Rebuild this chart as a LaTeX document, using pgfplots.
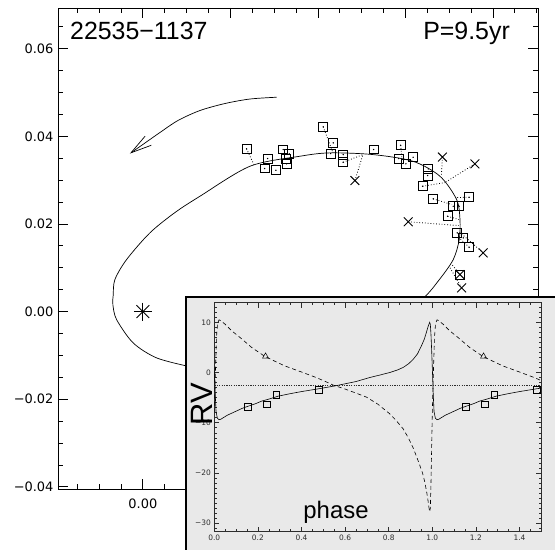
\documentclass[border=0pt]{standalone}
\usepackage{pgfplots}
\pgfplotsset{compat=1.18}
\usetikzlibrary{arrows.meta}
\usepackage{fontspec}
\setmainfont{Liberation Sans}
\newfontfamily\tickfont{DejaVu Sans}
\definecolor{insetbg}{RGB}{233,233,233}
\definecolor{axgray}{RGB}{45,45,45}
\begin{document}
\begin{tikzpicture}
\useasboundingbox (-58bp,-61bp) rectangle (497bp,489bp);
\begin{axis}[
  at={(0,0)}, anchor=south west,
  scale only axis, width=480bp, height=481bp,
  xmin=-0.0194, xmax=0.0903, ymin=-0.0405, ymax=0.0693,
  axis line style={line width=0.8bp},
  xtick={0,0.02,0.04,0.06,0.08},
  xticklabels={0.00,0.02,0.04,0.06,0.08},
  ytick={-0.04,-0.02,0,0.02,0.04,0.06},
  yticklabels={−0.04,−0.02,0.00,0.02,0.04,0.06},
  minor xtick={-0.015,-0.01,-0.005,0.005,0.01,0.015,0.025,0.03,0.035,0.045,0.05,0.055,0.065,0.07,0.075,0.085,0.09},
  minor ytick={-0.035,-0.03,-0.025,-0.015,-0.01,-0.005,0.005,0.01,0.015,0.025,0.03,0.035,0.045,0.05,0.055,0.065},
  major tick length=10bp, minor tick length=5bp,
  tick style={line width=0.8bp, black},
  tick label style={font=\fontsize{13}{15}\tickfont},
  xticklabel style={yshift=-6bp},
  yticklabel style={xshift=-1bp},
]
% orbit
\addplot[black, line width=0.7bp, smooth] coordinates {
(0.01036,-0.01249) (0.00313,-0.01057) (-0.00222,-0.00715) (-0.00601,-0.00183)
(-0.00686,0.0016) (-0.00679,0.00365) (-0.0064,0.0073) (-0.00373,0.01187)
(0.0016,0.01797) (0.00732,0.0226) (0.01303,0.02632) (0.02446,0.03317)
(0.03589,0.03546) (0.04275,0.03623) (0.05258,0.03584) (0.06172,0.03431)
(0.0679,0.03089) (0.07171,0.02557) (0.07247,0.021) (0.0723,0.01644)
(0.07093,0.01187) (0.0676,0.0071) (0.0640,0.0030) (0.057,-0.0018)
(0.049,-0.0058) (0.04,-0.009) (0.03,-0.0118) (0.02,-0.0130) (0.01036,-0.01249)};
% direction arrow
\addplot[black, line width=0.7bp, smooth, -{Straight Barb[length=21bp,width=11bp,line width=0.7bp]}] coordinates {
(0.03056,0.04893) (0.02446,0.04852) (0.01874,0.04749) (0.01303,0.04589)
(0.0080,0.04361) (0.00389,0.04087) (0.00046,0.03847) (-0.00297,0.03607)};
% residual lines
\addplot[black, dotted, line width=0.8bp] coordinates {(0.02370,0.03715) (0.02537,0.03356)};
\addplot[black, dotted, line width=0.8bp] coordinates {(0.04121,0.04217) (0.04343,0.03630)};
\addplot[black, dotted, line width=0.8bp] coordinates {(0.04578,0.03409) (0.05029,0.03584)};
\addplot[black, dotted, line width=0.8bp] coordinates {(0.04846,0.02991) (0.05029,0.03584)};
\addplot[black, dotted, line width=0.8bp] coordinates {(0.05890,0.03797) (0.05920,0.03493)};
\addplot[black, dotted, line width=0.8bp] coordinates {(0.06846,0.03527) (0.06823,0.03128)};
\addplot[black, dotted, line width=0.8bp] coordinates {(0.07589,0.03372) (0.06903,0.02945)};
\addplot[black, dotted, line width=0.8bp] coordinates {(0.06393,0.02861) (0.06903,0.02945)};
\addplot[black, dotted, line width=0.8bp] coordinates {(0.06635,0.02573) (0.07063,0.02443)};
\addplot[black, dotted, line width=0.8bp] coordinates {(0.07458,0.02610) (0.07154,0.02603)};
\addplot[black, dotted, line width=0.8bp] coordinates {(0.06064,0.02050) (0.07223,0.01963)};
\addplot[black, dotted, line width=0.8bp] coordinates {(0.06965,0.02176) (0.07223,0.02100)};
\addplot[black, dotted, line width=0.8bp] coordinates {(0.07458,0.01468) (0.07223,0.01689)};
\addplot[black, dotted, line width=0.8bp] coordinates {(0.07778,0.01340) (0.07223,0.01826)};
\addplot[black, dotted, line width=0.8bp] coordinates {(0.07285,0.00541) (0.07017,0.01005)};
\addplot[black, dotted, line width=0.8bp] coordinates {(0.07246,0.00845) (0.07063,0.01073)};
% squares
\addplot[only marks, mark=square, mark size=4.4bp, mark options={line width=0.9bp, black, fill=white}] coordinates {
(0.02370,0.03715) (0.02850,0.03493) (0.02782,0.03265) (0.03040,0.03226)
(0.03207,0.03699) (0.03344,0.03600) (0.03269,0.03493) (0.03285,0.03372)
(0.04121,0.04217) (0.04350,0.03852) (0.04290,0.03607) (0.04578,0.03584)
(0.04578,0.03409) (0.05273,0.03699) (0.05890,0.03797) (0.05845,0.03493)
(0.06011,0.03372) (0.06178,0.03523) (0.06521,0.03258) (0.06507,0.03105)
(0.06393,0.02861) (0.06635,0.02573) (0.07093,0.02404) (0.07230,0.02404)
(0.07458,0.02610) (0.06965,0.02176) (0.07184,0.01797) (0.07321,0.01683)
(0.07458,0.01468) (0.07246,0.00845)};
\addplot[only marks, mark=*, mark size=0.45bp, mark options={black}] coordinates {
(0.02370,0.03715) (0.02850,0.03493) (0.02782,0.03265) (0.03040,0.03226)
(0.03207,0.03699) (0.03344,0.03600) (0.03269,0.03493) (0.03285,0.03372)
(0.04121,0.04217) (0.04350,0.03852) (0.04290,0.03607) (0.04578,0.03584)
(0.04578,0.03409) (0.05273,0.03699) (0.05890,0.03797) (0.05845,0.03493)
(0.06011,0.03372) (0.06178,0.03523) (0.06521,0.03258) (0.06507,0.03105)
(0.06393,0.02861) (0.06635,0.02573) (0.07093,0.02404) (0.07230,0.02404)
(0.07458,0.02610) (0.06965,0.02176) (0.07184,0.01797) (0.07321,0.01683)
(0.07458,0.01468) (0.07246,0.00845)};
% crosses
\addplot[only marks, mark=x, mark size=6.2bp, mark options={line width=0.9bp, black}] coordinates {
(0.04846,0.02991) (0.06846,0.03527) (0.07589,0.03372) (0.06064,0.02050)
(0.07778,0.01340) (0.07246,0.00845) (0.07285,0.00541)};
% primary star
\addplot[only marks, mark=+, mark size=9bp, mark options={line width=0.9bp, black}] coordinates {(0,0)};
\addplot[only marks, mark=x, mark size=9bp, mark options={line width=0.9bp, black}] coordinates {(0,0)};
\end{axis}
\node[anchor=base west, inner sep=0] at (12bp,449bp) {\fontsize{25}{29}\selectfont 22535−1137};
\node[anchor=base east, inner sep=0] at (452bp,449bp) {\fontsize{25}{29}\selectfont P=9.5yr};
% inset panel
\fill[insetbg] (128bp,-61bp) rectangle (497bp,192bp);
\draw[line width=2.2bp, black] (128bp,-61bp) -- (128bp,192bp) -- (497bp,192bp);
\begin{axis}[
  at={(156.3bp,-42.7bp)}, anchor=south west,
  scale only axis, width=327bp, height=229bp,
  xmin=0, xmax=1.5, ymin=-31.7, ymax=13.9,
  axis line style={line width=0.5bp, axgray},
  xtick={0,0.2,0.4,0.6,0.8,1.0,1.2,1.4},
  xticklabels={0.0,0.2,0.4,0.6,0.8,1.0,1.2,1.4},
  ytick={-30,-20,-10,0,10},
  yticklabels={−30,−20,−10,0,10},
  minor xtick={0.05,0.1,...,1.5},
  minor ytick={-31,-30,...,13},
  major tick length=5bp, minor tick length=2.5bp,
  tick style={line width=0.5bp, axgray},
  tick label style={font=\fontsize{7.5}{9}\tickfont, text=axgray},
]
\addplot[axgray, line width=0.6bp, dash pattern=on 1.2bp off 1.2bp] coordinates {(0,-2.56) (1.5,-2.56)};
\addplot[black, line width=0.6bp] coordinates {
(0.000,1.0) (0.004,-4.0) (0.008,-7.8) (0.014,-9.1) (0.022,-9.4) (0.030,-9.3)
(0.045,-8.9) (0.060,-8.5) (0.080,-8.1) (0.100,-7.7) (0.130,-7.1) (0.156,-6.7)
(0.190,-6.2) (0.217,-5.7) (0.250,-5.3) (0.294,-4.7) (0.350,-4.2) (0.400,-3.8)
(0.477,-3.25) (0.550,-2.7) (0.600,-2.25) (0.650,-1.8) (0.713,-1.0) (0.760,-0.5)
(0.805,0.0) (0.840,0.5) (0.866,1.0) (0.890,1.7) (0.912,2.6) (0.932,3.7)
(0.950,5.3) (0.963,6.6) (0.973,8.0) (0.981,9.2) (0.988,10.0) (0.991,9.6)
(0.994,7.5) (0.997,4.5) (1.000,1.0) (1.004,-4.0) (1.008,-7.8) (1.014,-9.1)
(1.022,-9.4) (1.030,-9.3) (1.045,-8.9) (1.060,-8.5) (1.080,-8.1) (1.100,-7.7)
(1.130,-7.1) (1.156,-6.7) (1.190,-6.2) (1.217,-5.7) (1.250,-5.3) (1.294,-4.7)
(1.350,-4.2) (1.400,-3.8) (1.477,-3.25) (1.500,-3.1)};
\addplot[black, line width=0.6bp, dash pattern=on 4bp off 3bp] coordinates {
(0.000,-8.0) (0.005,0.0) (0.010,7.0) (0.015,9.8) (0.022,10.5) (0.030,10.3)
(0.050,9.6) (0.080,8.3) (0.120,6.9) (0.171,5.0) (0.232,3.2) (0.280,2.2)
(0.324,1.3) (0.400,0.1) (0.461,-0.9) (0.500,-1.6) (0.545,-2.5) (0.600,-3.3)
(0.650,-4.1) (0.698,-4.9) (0.750,-6.3) (0.804,-8.2) (0.835,-9.6) (0.866,-11.2)
(0.890,-13.0) (0.912,-15.0) (0.930,-17.0) (0.942,-18.4) (0.955,-20.0) (0.965,-21.7)
(0.975,-24.0) (0.981,-25.7) (0.986,-27.3) (0.988,-27.7) (0.991,-27.0) (0.994,-22.0)
(0.997,-15.0) (1.000,-8.0) (1.005,0.0) (1.010,7.0) (1.015,9.8) (1.022,10.5)
(1.030,10.3) (1.050,9.6) (1.080,8.3) (1.120,6.9) (1.171,5.0) (1.232,3.2)
(1.280,2.2) (1.324,1.3) (1.400,0.1) (1.461,-0.9) (1.500,-1.6)};
\addplot[only marks, mark=square, mark size=3.2bp, mark options={line width=0.5bp, black}] coordinates {
(0.153,-6.8) (0.240,-6.3) (0.283,-4.4) (0.480,-3.4)
(1.153,-6.8) (1.240,-6.3) (1.283,-4.4) (1.480,-3.4)};
\addplot[only marks, mark=triangle, mark size=3.5bp, mark options={line width=0.5bp, black}] coordinates {
(0.235,3.2) (1.235,3.2)};
\end{axis}
\node[rotate=90, inner sep=0] at (143.7bp,85bp) {\fontsize{31}{35}\selectfont RV};
\node[anchor=base, inner sep=0] at (278bp,-29bp) {\fontsize{24}{28}\selectfont phase};
\end{tikzpicture}
\end{document}
